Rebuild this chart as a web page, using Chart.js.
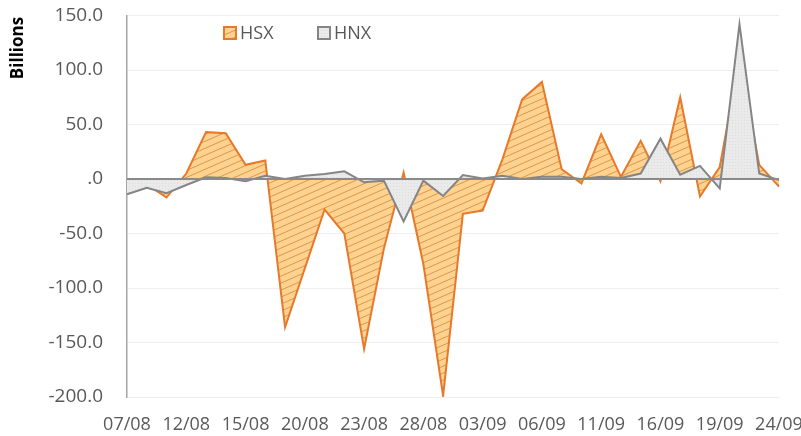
<!DOCTYPE html>
<html>
<head>
<meta charset="utf-8">
<script src="https://cdn.jsdelivr.net/npm/chart.js@4.4.1/dist/chart.umd.min.js"></script>
<style>
  html, body { margin: 0; padding: 0; background: #ffffff; }
  #wrap { width: 801px; height: 436px; }
</style>
</head>
<body>
<div id="wrap"><canvas id="chart" width="801" height="436"></canvas></div>
<script>
// Trading days, 7 Aug – 24 Sep
const dates = [
  '07/08','08/08','09/08','12/08','13/08','14/08','15/08','16/08','19/08','20/08',
  '21/08','22/08','23/08','26/08','27/08','28/08','29/08','30/08','03/09','04/09',
  '05/09','06/09','09/09','10/09','11/09','12/09','13/09','16/09','17/09','18/09',
  '19/09','20/09','23/09','24/09'
];

// Net value per exchange, billions
const hsx = [
  -9, -5, -17, 5, 43, 42, 13, 17, -136, -82,
  -28, -50, -156, -64, 6, -78, -199, -32, -29, 18,
  73, 89, 9, -4, 41, 2, 35, -2, 75, -16,
  11, 110, 13, -7
];
const hnx = [
  -14, -8, -13, -5.5, 1.5, 1, -2, 3, 0, 3,
  4.6, 7, -3, -1.5, -39, -1.5, -15.6, 3.7, 0.5, 3,
  0, 2, 2, 0, 2, 1, 5, 37, 4, 12,
  -8.6, 142, 5, -1
];

const yMin = -200, yMax = 150, yStep = 50;
const seriesNames = ['HSX', 'HNX'];
const yTitle = 'Billions';

const TEXT = '#595959';
const FONT = "'Open Sans', 'Noto Sans', sans-serif";

// Diagonal hatch for the HSX area
function hatchPattern() {
  const w = 16, h = 7;
  const c = document.createElement('canvas');
  c.width = w; c.height = h;
  const g = c.getContext('2d');
  g.fillStyle = '#FFD28F';
  g.fillRect(0, 0, w, h);
  g.strokeStyle = 'rgba(200,128,48,0.7)';
  g.lineWidth = 1;
  g.beginPath();
  for (const dy of [-h, 0, h]) {
    g.moveTo(0, h + dy);
    g.lineTo(w, 0 + dy);
  }
  g.stroke();
  return g.createPattern(c, 'repeat');
}

// Fine dotted fill for the HNX area
function dotPattern() {
  const c = document.createElement('canvas');
  c.width = 3; c.height = 3;
  const g = c.getContext('2d');
  g.fillStyle = '#EAEAEA';
  g.fillRect(0, 0, 3, 3);
  g.fillStyle = '#DCDCDC';
  g.fillRect(0, 0, 1, 1);
  return g.createPattern(c, 'repeat');
}

const hsxFill = hatchPattern();
const hnxFill = dotPattern();

// Zero line drawn over the filled areas
const zeroLine = {
  id: 'zeroLine',
  afterDatasetsDraw(chart) {
    const { ctx, chartArea, scales } = chart;
    const y = scales.y.getPixelForValue(0);
    ctx.save();
    ctx.strokeStyle = '#8A8A8A';
    ctx.lineWidth = 2;
    ctx.beginPath();
    ctx.moveTo(chartArea.left, y);
    ctx.lineTo(chartArea.right, y);
    ctx.stroke();
    ctx.restore();
  }
};

// Legend inside the plot near the top, plus the rotated unit label
const annotations = {
  id: 'annotations',
  afterDraw(chart) {
    const { ctx } = chart;
    const starts = [224, 318];
    const top = 27, box = 12;
    ctx.save();
    ctx.font = `18px ${FONT}`;
    ctx.textBaseline = 'middle';
    ctx.textAlign = 'left';
    chart.data.datasets.forEach((ds, i) => {
      const x = starts[i];
      ctx.fillStyle = ds.backgroundColor;
      ctx.fillRect(x, top, box, box);
      ctx.strokeStyle = ds.borderColor;
      ctx.lineWidth = 2;
      ctx.strokeRect(x, top, box, box);
      ctx.fillStyle = TEXT;
      ctx.fillText(ds.label, x + box + 4, top + box / 2 + 1);
    });
    ctx.restore();

    ctx.save();
    ctx.translate(18, 48);
    ctx.rotate(-Math.PI / 2);
    ctx.font = `bold 17px ${FONT}`;
    ctx.fillStyle = '#000000';
    ctx.textAlign = 'center';
    ctx.textBaseline = 'middle';
    ctx.fillText(yTitle, 0, 0);
    ctx.restore();
  }
};

new Chart(document.getElementById('chart'), {
  type: 'line',
  data: {
    labels: dates,
    datasets: [
      {
        label: seriesNames[0],
        data: hsx,
        borderColor: '#E8782A',
        backgroundColor: hsxFill,
        borderWidth: 2,
        fill: 'origin',
        pointRadius: 0,
        tension: 0,
        order: 2
      },
      {
        label: seriesNames[1],
        data: hnx,
        borderColor: '#858585',
        backgroundColor: hnxFill,
        borderWidth: 2,
        fill: 'origin',
        pointRadius: 0,
        tension: 0,
        order: 1
      }
    ]
  },
  options: {
    responsive: false,
    animation: false,
    devicePixelRatio: 1,
    layout: { padding: { left: 0, top: 15.5, right: 22, bottom: 0 } },
    plugins: {
      legend: { display: false },
      tooltip: { enabled: false }
    },
    scales: {
      x: {
        offset: false,
        grid: { display: false, drawTicks: false },
        border: { display: false },
        ticks: {
          autoSkip: false,
          maxRotation: 0,
          minRotation: 0,
          padding: 17,
          color: TEXT,
          font: { family: FONT, size: 18 },
          callback: (v, i) => (i % 3 === 0 ? dates[i] : '')
        },
        afterFit(scale) {
          scale.height = 39;
          scale.paddingLeft = 0;
          scale.paddingRight = 0;
        }
      },
      y: {
        min: yMin,
        max: yMax,
        grid: { color: '#EEEEEE', lineWidth: 1, drawTicks: false },
        border: { display: true, color: '#A6A6A6', width: 1.5 },
        ticks: {
          stepSize: yStep,
          padding: 24,
          color: TEXT,
          font: { family: FONT, size: 19 },
          callback: v => (v === 0 ? '.0' : v.toFixed(1))
        },
        afterFit(scale) {
          scale.width = 127;
          scale.paddingTop = 0;
          scale.paddingBottom = 0;
        }
      }
    }
  },
  plugins: [zeroLine, annotations]
});
</script>
</body>
</html>
